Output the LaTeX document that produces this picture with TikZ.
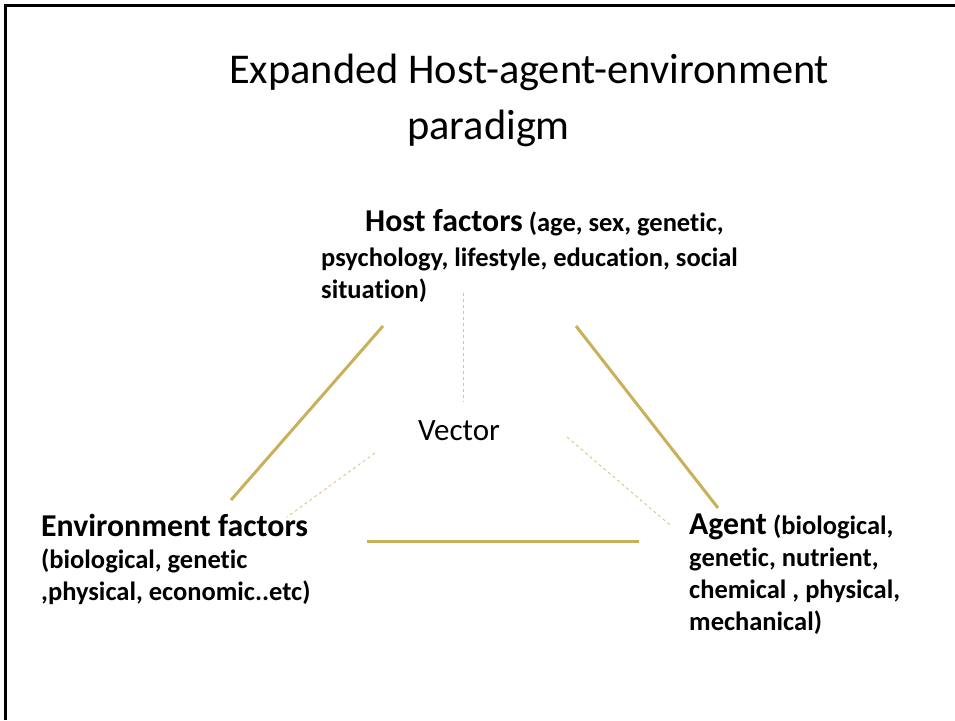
\documentclass[tikz,border=0pt]{standalone}
\usepackage{fontspec}
\setmainfont{Carlito}[Ligatures=NoCommon]
\usetikzlibrary{positioning}
\definecolor{goldline}{HTML}{C9B15B}
\definecolor{framecol}{HTML}{000000}
\tikzset{
  factorbox/.style={anchor=north west, inner sep=0pt, align=left,
                    font=\fontsize{26.5}{32}\selectfont\bfseries},
  sideline/.style={goldline, line width=3pt},
  vecline/.style={goldline!75, line width=0.9pt, dash pattern=on 3pt off 3pt},
}
\newcommand{\factorhead}[1]{{\fontsize{31.8}{32}\selectfont #1}}

\begin{document}
\begin{tikzpicture}[x=1pt, y=-1pt]

  \useasboundingbox (0,0) rectangle (955,720);

  % slide frame (left and top only)
  \draw[framecol, line width=3pt] (5,720) -- (5,5) -- (955,5);

  %% -- title -------------------------------------------------------------
  \node[anchor=north west, inner sep=0pt, align=left,
        font=\fontsize{42.4}{56}\selectfont] (title) at (229,54)
    {Expanded Host-agent-environment\\
     \hspace*{178pt}paradigm};

  %% -- the three factors -------------------------------------------------
  \node[factorbox] (host) at (321,209)
    {\hspace*{44pt}\factorhead{Host factors} (age, sex, genetic,\\[3pt]
     psychology, lifestyle, education, social\\
     situation)};

  \node[factorbox] (env) at (41,514)
    {\factorhead{Environment factors}\\
     (biological, genetic\\
     ,physical, economic..etc)};

  \node[factorbox] (agent) at (689,514)
    {\factorhead{Agent} (biological,\\
     genetic, nutrient,\\
     chemical , physical,\\
     mechanical)};

  \node[font=\fontsize{31}{36}\selectfont, inner sep=0pt] (vector) at (459,431) {Vector};

  %% -- end points of the connectors --------------------------------------
  \coordinate (hostSW)  at (383,326);
  \coordinate (hostSE)  at (576,326);
  \coordinate (hostS)   at (463,293);
  \coordinate (envNE)   at (231,500);
  \coordinate (envE)    at (367,541);
  \coordinate (envV)    at (287,517);
  \coordinate (agentNW) at (718,508);
  \coordinate (agentW)  at (639,541);
  \coordinate (agentV)  at (670,525);
  \coordinate (vecN)    at (463,402);
  \coordinate (vecSW)   at (375,453);
  \coordinate (vecSE)   at (567,437);

  % triangle sides
  \draw[sideline] (hostSW) -- (envNE);
  \draw[sideline] (hostSE) -- (agentNW);
  \draw[sideline] (envE) -- (agentW);

  % vector links
  \draw[vecline] (hostS) -- (vecN);
  \draw[vecline] (vecSW) -- (envV);
  \draw[vecline] (vecSE) -- (agentV);

\end{tikzpicture}
\end{document}
